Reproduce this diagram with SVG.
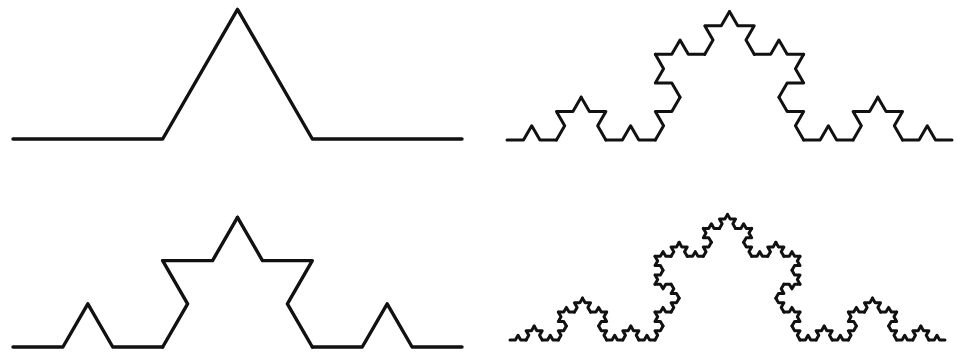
<svg xmlns="http://www.w3.org/2000/svg" xmlns:xlink="http://www.w3.org/1999/xlink" width="969" height="353" viewBox="0 0 969 353">
<style>
.k{fill:none;stroke:#111;stroke-linejoin:round;stroke-linecap:round;vector-effect:non-scaling-stroke}
</style>
<defs>
<path id="L1" class="k" d="M0,0 L0.333333,0 L0.5,-0.288675 L0.666667,0 L1,0"/>
<g id="L2">
<use xlink:href="#L1" transform="scale(0.333333)"/>
<use xlink:href="#L1" transform="translate(0.333333,0) rotate(-60) scale(0.333333)"/>
<use xlink:href="#L1" transform="translate(0.5,-0.288675) rotate(60) scale(0.333333)"/>
<use xlink:href="#L1" transform="translate(0.666667,0) scale(0.333333)"/>
</g>
<g id="L3">
<use xlink:href="#L2" transform="scale(0.333333)"/>
<use xlink:href="#L2" transform="translate(0.333333,0) rotate(-60) scale(0.333333)"/>
<use xlink:href="#L2" transform="translate(0.5,-0.288675) rotate(60) scale(0.333333)"/>
<use xlink:href="#L2" transform="translate(0.666667,0) scale(0.333333)"/>
</g>
<g id="L4">
<use xlink:href="#L3" transform="scale(0.333333)"/>
<use xlink:href="#L3" transform="translate(0.333333,0) rotate(-60) scale(0.333333)"/>
<use xlink:href="#L3" transform="translate(0.5,-0.288675) rotate(60) scale(0.333333)"/>
<use xlink:href="#L3" transform="translate(0.666667,0) scale(0.333333)"/>
</g>
</defs>
<rect width="969" height="353" fill="#fff"/>
<g id="koch1"><use xlink:href="#L1" transform="translate(13,139) scale(449)" style="stroke-width:3.4"/></g>
<g id="koch2"><use xlink:href="#L2" transform="translate(13,347) scale(449)" style="stroke-width:3.4"/></g>
<g id="koch3"><use xlink:href="#L3" transform="translate(507,140) scale(445)" style="stroke-width:3"/></g>
<g id="koch4"><use xlink:href="#L4" transform="translate(510,340) scale(435)" style="stroke-width:3"/></g>
</svg>
